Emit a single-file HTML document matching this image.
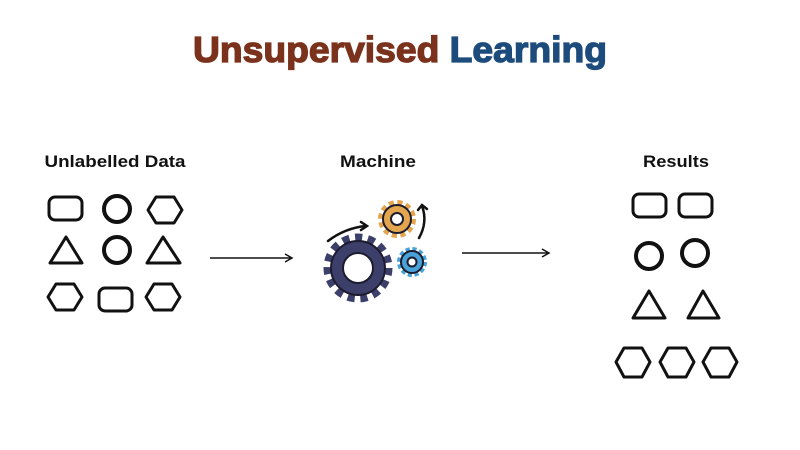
<!DOCTYPE html>
<html><head><meta charset="utf-8"><style>
html,body{margin:0;padding:0;background:#fff;}
svg{display:block}
</style></head><body>
<svg width="800" height="450" viewBox="0 0 800 450" xmlns="http://www.w3.org/2000/svg">
<rect width="800" height="450" fill="#fff"/>
<text x="400" y="62" text-anchor="middle" font-family="Liberation Sans, sans-serif" font-weight="bold" font-size="36" textLength="414" lengthAdjust="spacingAndGlyphs" stroke-width="1.3"><tspan fill="#7b321c" stroke="#7b321c">Unsupervised</tspan><tspan fill="#1d4c7c" stroke="#1d4c7c"> Learning</tspan></text>
<g font-family="Liberation Sans, sans-serif" font-weight="bold" font-size="17" fill="#111" text-anchor="middle">
<text x="115" y="167" textLength="141" lengthAdjust="spacingAndGlyphs">Unlabelled Data</text>
<text x="378" y="167" textLength="76" lengthAdjust="spacingAndGlyphs">Machine</text>
<text x="676" y="167" textLength="66" lengthAdjust="spacingAndGlyphs">Results</text>
</g>
<g fill="none" stroke="#111" stroke-width="3" stroke-linejoin="round">
<rect x="49" y="197" width="33" height="23" rx="6"/>
<circle cx="117" cy="209" r="13" stroke-width="4"/>
<polygon points="148,210 156,197 174,197 182,210 174,223 156,223"/>
<polygon points="50,263 66,237 82,263"/>
<circle cx="117" cy="250" r="13" stroke-width="4"/>
<polygon points="147,263 163,237 180,263"/>
<polygon points="48,297 56,284 74,284 82,297 74,310 56,310"/>
<rect x="99" y="288" width="33" height="23" rx="6"/>
<polygon points="146,297 154,284 172,284 180,297 172,310 154,310"/>
<rect x="633" y="194" width="33" height="23" rx="6"/>
<rect x="679" y="194" width="33" height="23" rx="6"/>
<circle cx="649" cy="256" r="13" stroke-width="4"/>
<circle cx="695" cy="253" r="13" stroke-width="4"/>
<polygon points="633,318 649,291 665,318"/>
<polygon points="688,318 703,291 719,318"/>
<polygon points="616,362 624,348 642,348 650,362 642,377 624,377"/>
<polygon points="660,362 668,348 686,348 694,362 686,377 668,377"/>
<polygon points="703,362 711,348 729,348 737,362 729,377 711,377"/>
</g>
<g stroke="#111" stroke-width="1.5" fill="none">
<line x1="210" y1="258" x2="291" y2="258"/>
<polyline points="285,254 292,258 285,262"/>
<line x1="462" y1="253" x2="548" y2="253"/>
<polyline points="542,249 549,253 542,257"/>
</g>
<g stroke="#1c1c2e" stroke-width="2">
<circle cx="358" cy="268" r="30" fill="none" stroke="#3d3f6b" stroke-width="9" stroke-dasharray="7 5.57"/>
<circle cx="358" cy="268" r="27" fill="#3d3f6b"/>
<circle cx="358" cy="268" r="15" fill="#fff"/>
<circle cx="397" cy="219" r="16" fill="none" stroke="#e3a64e" stroke-width="6" stroke-dasharray="5 3.4"/>
<circle cx="397" cy="219" r="14" fill="#e3a64e"/>
<circle cx="397" cy="219" r="6" fill="#fff"/>
<circle cx="412" cy="262" r="12.5" fill="none" stroke="#4aa3d8" stroke-width="5" stroke-dasharray="4 2.54"/>
<circle cx="412" cy="262" r="11" fill="#4aa3d8"/>
<circle cx="412" cy="262" r="4.5" fill="#fff"/>
</g>
<g stroke="#111" stroke-width="2.5" fill="none" stroke-linecap="round">
<path d="M328 241 Q345 228 366 226"/>
<polyline points="361,222 367,226 361,230"/>
<path d="M419 238 Q428 222 422 206"/>
<polyline points="418,210 422,205 427,209"/>
</g>
</svg>
</body></html>
